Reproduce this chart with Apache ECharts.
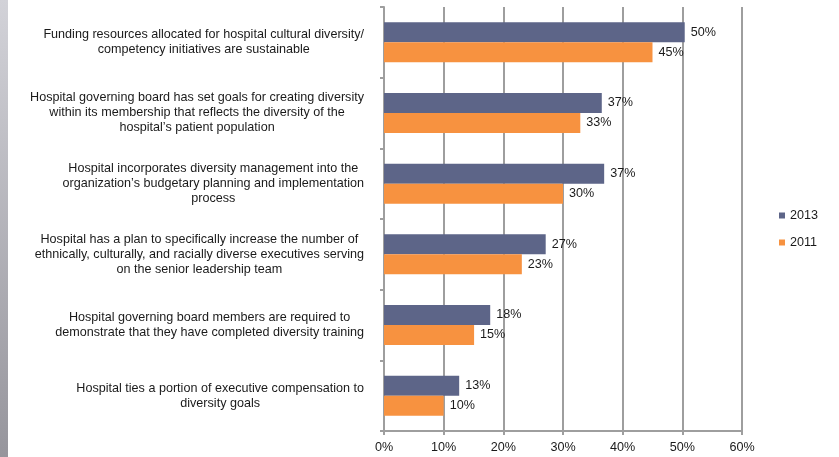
<!DOCTYPE html>
<html>
<head>
<meta charset="utf-8">
<script src="https://cdn.jsdelivr.net/npm/echarts@6/dist/echarts.min.js"></script>
<style>html,body{margin:0;padding:0;background:#fff;}#c{width:839px;height:457px;}</style>
</head>
<body>
<div id="c"></div>
<script>
var categories = [
  "Funding resources allocated for hospital cultural diversity/\ncompetency initiatives are sustainable",
  "Hospital governing board has set goals for creating diversity\nwithin its membership that reflects the diversity of the\nhospital\u2019s patient population",
  "Hospital incorporates diversity management into the\norganization\u2019s budgetary planning and implementation\nprocess",
  "Hospital has a plan to specifically increase the number of\nethnically, culturally, and racially diverse executives serving\non the senior leadership team",
  "Hospital governing board members are required to\ndemonstrate that they have completed diversity training",
  "Hospital ties a portion of executive compensation to\ndiversity goals"
];
var values2013 = [50.4, 36.5, 36.9, 27.1, 17.8, 12.6];
var values2011 = [45.0, 32.9, 30.0, 23.1, 15.1, 10.0];
var xTicks = [0, 10, 20, 30, 40, 50, 60];

var FONT = '"Liberation Sans", Arial, sans-serif';
var FS = 12.6;
var chart = echarts.init(document.getElementById('c'), null, {renderer: 'canvas'});
var labelCfg = {
  show: true, position: 'right', distance: 6,
  color: '#1a1a1a', fontSize: FS, fontFamily: FONT,
  formatter: function (p) { return Math.round(p.value) + '%'; }
};
chart.setOption({
  animation: false,
  backgroundColor: '#fff',
  graphic: [{
    type: 'rect', left: 0, top: 0, shape: {width: 8, height: 457}, silent: true,
    style: {fill: new echarts.graphic.LinearGradient(0, 0, 0, 1, [
      {offset: 0, color: '#d2d2d8'}, {offset: 1, color: '#96959c'}])}
  }],
  grid: {left: 384, top: 7, right: 97, bottom: 26, outerBoundsMode: 'none'},
  legend: {
    orient: 'vertical', left: 779, top: 209, padding: 0,
    itemWidth: 6, itemHeight: 6, itemGap: 14, icon: 'rect',
    textStyle: {color: '#1a1a1a', fontSize: FS, fontFamily: FONT},
    data: ['2013', '2011']
  },
  xAxis: {
    type: 'value', min: xTicks[0], max: xTicks[xTicks.length - 1], interval: 10,
    axisLine: {show: true, lineStyle: {color: '#9e9e9e', width: 2}},
    axisTick: {show: true, length: 4, lineStyle: {color: '#9e9e9e', width: 2}},
    splitLine: {show: true, lineStyle: {color: '#9e9e9e', width: 2}},
    axisLabel: {margin: 10, color: '#1a1a1a', fontSize: FS, fontFamily: FONT, formatter: '{value}%'}
  },
  yAxis: {
    type: 'category', inverse: true, data: categories,
    axisLine: {show: true, lineStyle: {color: '#9e9e9e', width: 2}},
    axisTick: {show: true, length: 4, lineStyle: {color: '#9e9e9e', width: 2}},
    axisLabel: {
      margin: 20, align: 'right', color: '#1a1a1a', fontSize: FS, fontFamily: FONT,
      formatter: function (v) { return v.split('\n').map(function (l) { return '{c|' + l + '}'; }).join('\n'); },
      rich: {c: {align: 'center', fontSize: FS, lineHeight: 15, fontFamily: FONT, color: '#1a1a1a'}}
    }
  },
  series: [
    {name: '2013', type: 'bar', data: values2013, barWidth: 20, barGap: '0%',
     itemStyle: {color: '#5d6588'}, label: labelCfg},
    {name: '2011', type: 'bar', data: values2011, barWidth: 20, barGap: '0%',
     itemStyle: {color: '#f79240'}, label: labelCfg}
  ]
});
</script>
</body>
</html>
